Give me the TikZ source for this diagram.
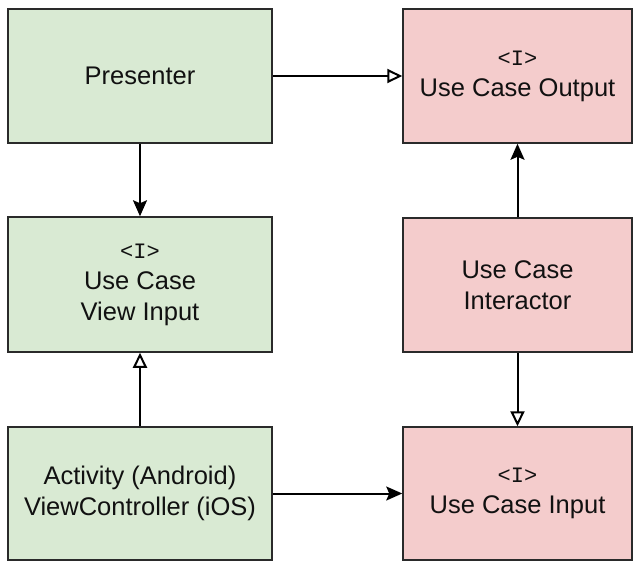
\documentclass[tikz,border=0pt]{standalone}
\usepackage{fontspec}
\setmainfont{Liberation Sans}
\newfontfamily\monof{Liberation Mono}
\usetikzlibrary{arrows.meta}
\definecolor{gfill}{HTML}{D9EAD3}
\definecolor{pfill}{HTML}{F4CCCC}
\definecolor{bord}{HTML}{2A2A2A}
\definecolor{txt}{HTML}{111111}
\tikzset{
  box/.style={draw=bord, line width=1.5pt, rectangle, align=center, inner sep=0pt,
    text=txt, font=\fontsize{25.5}{31}\selectfont},
  gbox/.style={box, fill=gfill},
  pbox/.style={box, fill=pfill},
  solidarr/.style={draw=black, line width=2pt, -{Stealth[length=16pt,width=14pt,inset=3pt]}},
  openarr/.style={draw=black, line width=2pt, -{Triangle[open,length=15pt,width=14pt,line width=2pt]}},
}
\newcommand{\ifc}{{\monof\fontsize{22}{31}\selectfont <I>}}
\begin{document}
\begin{tikzpicture}[x=1pt,y=-1pt]
\useasboundingbox (0,0) rectangle (642,574);
\node[gbox, minimum width=264pt, minimum height=134pt] (P) at (140,76) {Presenter};
\node[pbox, minimum width=229pt, minimum height=134pt] (O) at (517.5,76) {\ifc\\Use Case Output};
\node[gbox, minimum width=264pt, minimum height=135pt] (V) at (140,284.5) {\ifc\\Use Case\\View Input};
\node[pbox, minimum width=229pt, minimum height=134pt] (I) at (517.5,285) {Use Case\\Interactor};
\node[gbox, minimum width=264pt, minimum height=133pt] (A) at (140,493.5) {Activity (Android)\\ViewController (iOS)};
\node[pbox, minimum width=229pt, minimum height=133pt] (N) at (517.5,493.5) {\ifc\\Use Case Input};
\draw[openarr] (P.east) -- (O.west);
\draw[solidarr] (P.south) -- (V.north);
\draw[openarr] (A.north) -- (V.south);
\draw[solidarr] (I.north) -- (O.south);
\draw[openarr] (I.south) -- (N.north);
\draw[solidarr] (A.east) -- (N.west);
\end{tikzpicture}
\end{document}
